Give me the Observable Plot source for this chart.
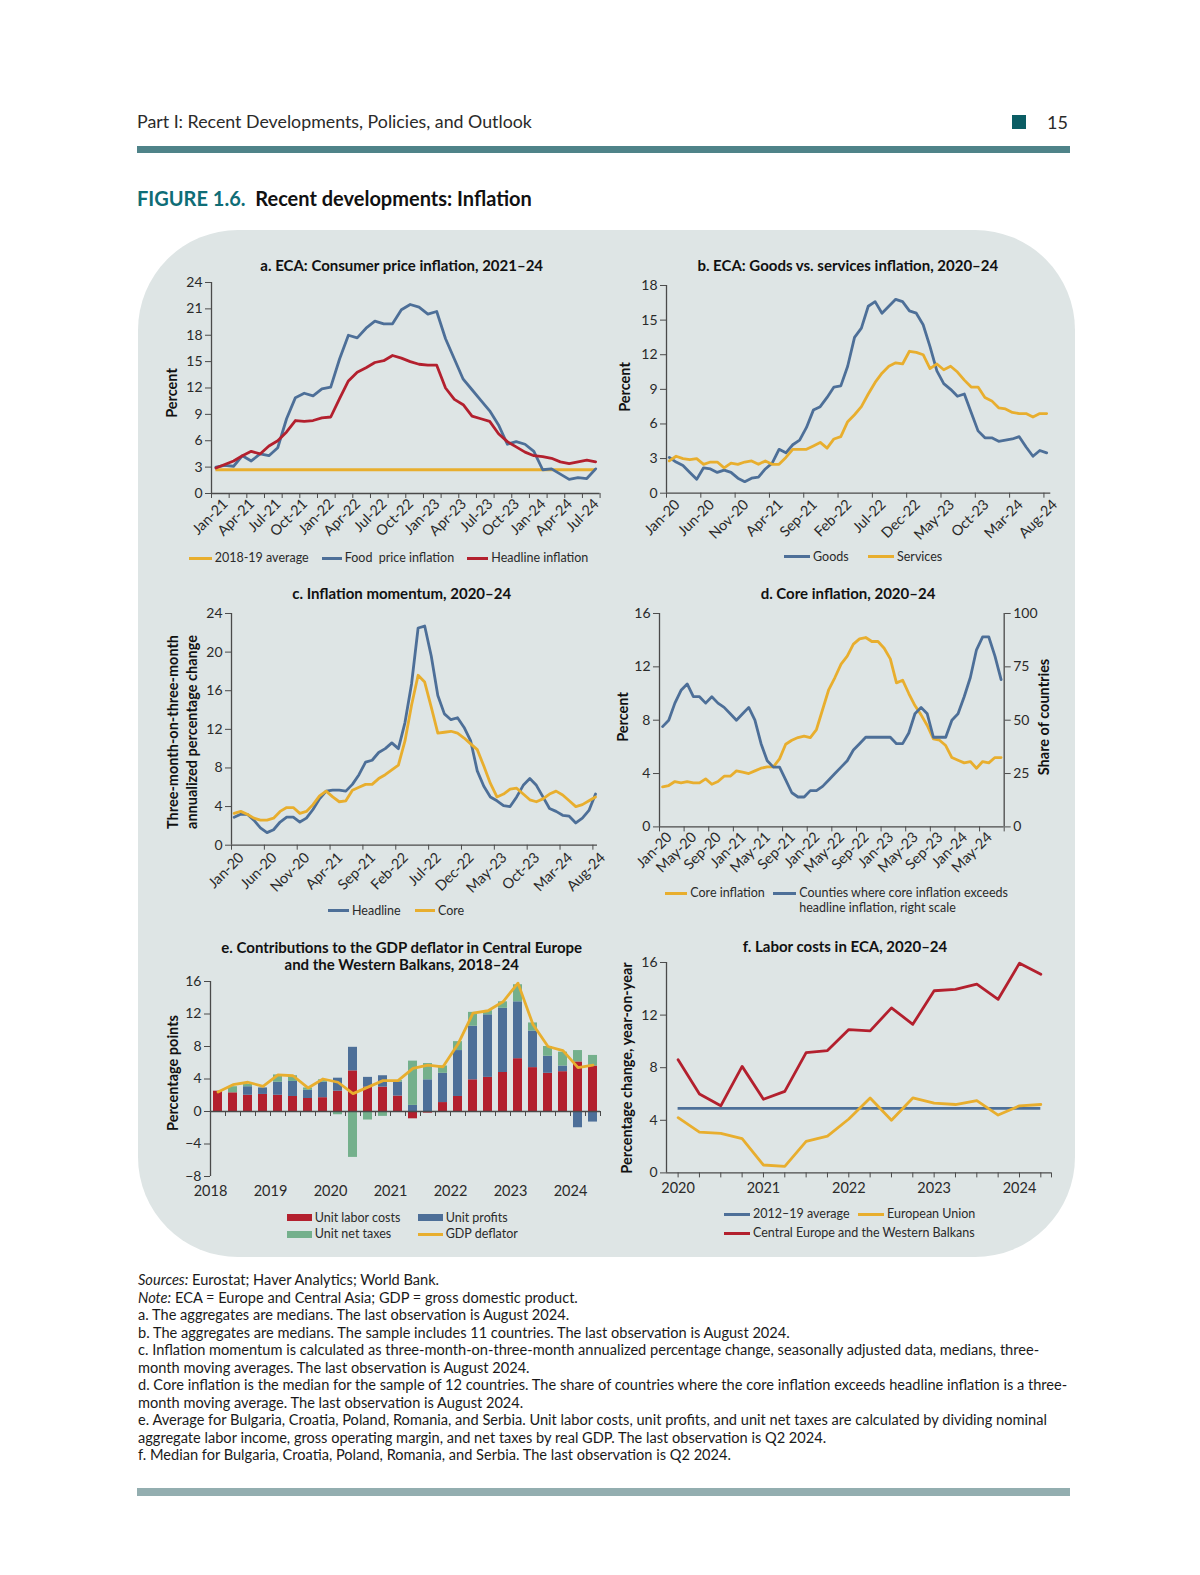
<!DOCTYPE html>
<html><head><meta charset="utf-8">
<script src="https://cdn.jsdelivr.net/npm/d3@7"></script>
<script src="https://cdn.jsdelivr.net/npm/@observablehq/plot@0.6"></script>
<style>
html,body{margin:0;padding:0;background:#fff;}
#page{position:relative;width:1200px;height:1575px;overflow:hidden;font-family:Lato,"Open Sans",sans-serif;color:#222;}
#page > *{position:absolute;}
.t{white-space:pre;line-height:1;}
.fn div{white-space:nowrap;height:17.5px;line-height:17.5px;}
</style></head><body><div id="page"></div>
<script>
// ---------------- DATA ----------------
// a. ECA consumer price inflation, monthly Jan-21 .. Aug-24
const aTickLabels = ["Jan-21","Apr-21","Jul-21","Oct-21","Jan-22","Apr-22","Jul-22","Oct-22","Jan-23","Apr-23","Jul-23","Oct-23","Jan-24","Apr-24","Jul-24"];
const aFood = [3.0,3.2,3.1,4.3,3.7,4.5,4.3,5.2,8.5,10.9,11.4,11.1,11.9,12.1,15.3,18.0,17.7,18.8,19.6,19.3,19.3,20.9,21.5,21.2,20.4,20.7,17.6,15.3,13.0,11.8,10.6,9.4,7.8,5.6,5.9,5.6,4.8,2.7,2.8,2.2,1.6,1.8,1.7,2.8];
const aHeadline = [2.9,3.3,3.7,4.3,4.8,4.5,5.4,6.0,7.0,8.3,8.2,8.3,8.6,8.7,10.8,12.8,13.8,14.3,14.9,15.1,15.7,15.4,15.0,14.7,14.6,14.6,12.0,10.7,10.1,8.8,8.5,8.2,6.8,5.9,5.3,4.7,4.3,4.2,4.0,3.6,3.4,3.6,3.8,3.6];
const aAverage = 2.7;
const aYTicks = [0,3,6,9,12,15,18,21,24];

// b. Goods vs services, monthly Jan-20 .. Aug-24
const bcTickLabels = ["Jan-20","Jun-20","Nov-20","Apr-21","Sep-21","Feb-22","Jul-22","Dec-22","May-23","Oct-23","Mar-24","Aug-24"];
const bGoods = [3.1,2.7,2.4,1.8,1.2,2.2,2.1,1.8,2.0,1.8, 1.3,1.0,1.3,1.4,2.1,2.6,3.8,3.5,4.2,4.6, 5.7,7.2,7.5,8.3,9.2,9.3,11.0,13.5,14.3,16.2, 16.6,15.6,16.2,16.8,16.6,15.8,15.6,14.6,12.7,10.6, 9.5,9.0,8.4,8.6,7.0,5.4,4.8,4.8,4.5,4.6, 4.7,4.9,4.0,3.2,3.7,3.5];
const bServices = [2.8,3.2,3.0,2.9,3.0,2.5,2.7,2.7,2.2,2.6, 2.5,2.7,2.8,2.5,2.8,2.5,2.5,3.1,3.8,3.8, 3.8,4.1,4.4,3.9,4.7,4.9,6.2,6.8,7.5,8.6, 9.6,10.4,11.0,11.3,11.2,12.3,12.2,12.0,10.8,11.2, 10.7,11.0,10.5,9.8,9.2,9.2,8.3,8.0,7.4,7.3, 7.0,6.9,6.9,6.6,6.9,6.9];
const bYTicks = [0,3,6,9,12,15,18];

// c. Inflation momentum, monthly Jan-20 .. Aug-24
const cHeadline = [2.9,3.2,3.2,2.6,1.8,1.3,1.6,2.4,2.9,2.9, 2.4,2.8,3.7,4.8,5.6,5.7,5.7,5.6,6.3,7.3, 8.6,8.8,9.6,10.0,10.6,10.0,12.7,16.7,22.5,22.7, 19.6,15.5,13.6,13.0,13.2,12.2,10.8,7.7,6.1,5.0, 4.6,4.1,4.0,5.0,6.2,6.9,6.2,5.0,3.8,3.5, 3.1,3.0,2.3,2.8,3.6,5.3];
const cCore = [3.3,3.5,3.2,2.8,2.6,2.6,2.8,3.5,3.9,3.9, 3.3,3.5,4.2,5.1,5.6,5.0,4.5,4.6,5.7,6.0, 6.3,6.3,6.9,7.3,7.8,8.3,10.8,14.5,17.6,16.9, 14.3,11.6,11.7,11.8,11.6,11.1,10.5,9.9,8.2,6.4, 5.0,5.3,5.8,5.9,5.3,4.7,4.5,4.8,5.3,5.6, 5.2,4.6,4.0,4.2,4.6,5.0];
const cYTicks = [0,4,8,12,16,20,24];

// d. Core inflation, monthly Jan-20 .. Aug-24
const dTickLabels = ["Jan-20","May-20","Sep-20","Jan-21","May-21","Sep-21","Jan-22","May-22","Sep-22","Jan-23","May-23","Sep-23","Jan-24","May-24"];
const dCore = [3.0,3.1,3.4,3.3,3.4,3.3,3.3,3.6,3.2,3.4, 3.8,3.8,4.2,4.1,4.0,4.2,4.4,4.5,4.5,5.1, 6.2,6.5,6.7,6.8,6.7,7.3,8.8,10.3,11.2,12.2, 12.8,13.7,14.1,14.2,13.9,13.9,13.4,12.6,10.8,11.0, 10.0,9.1,8.4,7.6,6.6,6.5,6.1,5.2,5.0,4.8, 4.9,4.4,4.9,4.8,5.2,5.2];
const dShare = [47,50,58,64,67,61,61,58,61,58, 56,53,50,53,56,50,39,31,28,28, 22,16,14,14,17,17,19,22,25,28, 31,36,39,42,42,42,42,42,39,39, 44,53,56,53,42,42,42,50,53,61, 70,83,89,89,80,69];
const dLeftTicks = [0,4,8,12,16];
const dRightTicks = [0,25,50,75,100];

// e. GDP deflator contributions, quarterly 2018Q1 .. 2024Q2
const eYears = ["2018","2019","2020","2021","2022","2023","2024"];
const eSeries = ["Unit labor costs","Unit profits","Unit net taxes"];
const eLabor = [2.5,2.3,2.0,2.1,2.0,1.85,1.6,1.7,2.5,5.0, 3.0,3.0,1.9,-0.9,-0.2,1.1,1.85,3.9,4.2,4.8, 6.5,5.4,4.7,4.9,6.1,5.6];
const eProfits = [0,0,1.05,0.8,1.6,1.85,1.0,1.9,1.6,2.9, 1.2,1.4,1.7,0.75,3.9,3.6,5.65,6.6,7.7,7.9, 7.0,4.5,2.1,0.7,-2.0,-1.3];
const eTaxes = [0,0.75,0.3,0,0.9,0.7,0.3,0.3,-0.4,-5.65, -1.05,-0.6,0.2,5.45,2.0,0.9,1.1,1.7,0.5,0.8, 2.1,1.0,1.2,1.7,1.4,1.3];
const eDeflator = [2.4,3.3,3.6,3.1,4.5,4.4,2.9,4.0,3.6,2.2, 3.0,3.8,3.8,5.3,5.7,5.5,8.3,12.1,12.4,13.5, 15.8,10.7,8.0,7.5,5.4,5.7];
const eYTicks = [-8,-4,0,4,8,12,16];

// f. Labor costs, quarterly 2020Q1 .. 2024Q2
const fYears = ["2020","2021","2022","2023","2024"];
const fCEWB = [8.6,6.0,5.1,8.1,5.6,6.2,9.15,9.3,10.9,10.8,12.55,11.3,13.85,13.95,14.35,13.2,15.95,15.1];
const fEU = [4.2,3.1,3.0,2.6,0.6,0.5,2.4,2.8,4.1,5.7,4.0,5.7,5.3,5.2,5.5,4.4,5.1,5.2];
const fAverage = 4.9;
const fYTicks = [0,4,8,12,16];

// ---------------- STYLE ----------------
const BLUE="#4d6f98", RED="#b3202e", YEL="#e8ae2e", GRN="#74b08c", AX="#4a4a4a", TXT="#2a2a2a";
const FONT="Lato, 'Open Sans', sans-serif";
const LW=2.8, TS=15, YL=14.5, RS=14.5;
const page=document.getElementById("page");

function box(x,y,w,h,style){const d=document.createElement("div");Object.assign(d.style,{left:x+"px",top:y+"px",width:w+"px",height:h+"px"},style||{});page.appendChild(d);return d;}
function text(str,x,y,o={}){
  const d=document.createElement("div");d.className="t";d.innerHTML=str;
  const tx=o.anchor==="middle"?"-50%":o.anchor==="end"?"-100%":"0";
  Object.assign(d.style,{left:x+"px",top:y+"px",fontSize:(o.size||12.5)+"px",fontWeight:o.weight||400,color:o.color||TXT,
    transform:`translate(${tx},-50%)`+(o.rotate?` rotate(${o.rotate}deg)`:""),textAlign:"center"});
  page.appendChild(d);return d;
}
const title=(s,x,y)=>text(s,x,y,{size:TS,weight:700,anchor:"middle",color:"#111"});
const ylab=(s,x,y)=>text(s,x,y,{size:YL,weight:700,anchor:"middle",rotate:-90,color:"#111"});
function legLine(x0,x1,y,color,label){box(x0,y-1.5,x1-x0,3,{background:color});text(label,x1+3,y,{size:12.5});}
function legRect(x0,x1,y,color,label){box(x0,y-3.5,x1-x0,7,{background:color});text(label,x1+3,y,{size:12.5});}

function chart(fx0,fx1,fy0,fy1,m,opts){
  const [ml,mr,mt,mb]=m;
  const svg=Plot.plot({width:fx1-fx0+ml+mr,height:fy1-fy0+mt+mb,marginLeft:ml,marginRight:mr,marginTop:mt,marginBottom:mb,
    style:{background:"transparent",overflow:"visible",fontFamily:FONT,color:TXT},...opts});
  svg.style.position="absolute";svg.style.left=(fx0-ml)+"px";svg.style.top=(fy0-mt)+"px";
  page.appendChild(svg);return svg;
}
const yAxis=(ticks,extra={})=>Plot.axisY({ticks,tickSize:6,tickPadding:3,fontSize:14,label:null,stroke:AX,...extra});
const xTicks=(ticks)=>Plot.axisX({ticks,tickSize:5,tickFormat:()=>"",label:null,stroke:AX});
const xRot=(ticks,fmt,dx,pad)=>Plot.axisX({ticks,tickFormat:fmt,tickSize:0,tickPadding:pad,tickRotate:-45,fontSize:RS,dx,label:null});

// ---------------- PAGE FRAME ----------------
text("Part I: Recent Developments, Policies, and Outlook",137,122,{size:17.8});
box(1012,115,14,14,{background:"#0b5d64"});
text("15",1047,122,{size:18});
box(137,146,933,7,{background:"#4f8389"});
text('<span style="color:#0f6d76">FIGURE 1.6.</span>&nbsp; Recent developments: Inflation',137,198,{size:20,weight:700,color:"#111"});
box(138,230,937,1027,{background:"#dee5e5",borderRadius:"100px"});
box(137,1488,933,8,{background:"#93aeb0"});

// ---------------- PANEL A ----------------
title("a. ECA: Consumer price inflation, 2021–24",401.7,265);
ylab("Percent",171.7,393);
chart(210.7,599.3,282.3,493.3,[60,20,12,70],{
  x:{domain:[0,44]},y:{domain:[0,24]},
  marks:[
    Plot.ruleY([aAverage],{x1:0.5,x2:aFood.length-0.5,stroke:YEL,strokeWidth:LW}),
    Plot.line(aFood,{x:(d,i)=>i+0.5,y:d=>d,stroke:BLUE,strokeWidth:LW}),
    Plot.line(aHeadline,{x:(d,i)=>i+0.5,y:d=>d,stroke:RED,strokeWidth:LW}),
    Plot.ruleX([0],{stroke:AX,strokeWidth:1.3}),
    Plot.ruleY([0],{stroke:AX,strokeWidth:1.3}),
    yAxis(aYTicks),
    xTicks(d3.range(0,45,2)),
    xRot(aTickLabels.map((d,i)=>i*3),d=>aTickLabels[Math.round(d/3)],14,8)
  ]});
legLine(189.3,211.7,558,YEL,"2018-19 average");
legLine(321.7,341.7,558,BLUE,"Food  price inflation");
legLine(466.7,488.3,558,RED,"Headline inflation");

// ---------------- PANEL B ----------------
title("b. ECA: Goods vs. services inflation, 2020–24",847.8,265);
ylab("Percent",625,387);
chart(665.7,1050,285,492.7,[60,20,12,70],{
  x:{domain:[0,56]},y:{domain:[0,18]},
  marks:[
    Plot.line(bGoods,{x:(d,i)=>i+0.4,y:d=>d,stroke:BLUE,strokeWidth:LW}),
    Plot.line(bServices,{x:(d,i)=>i+0.4,y:d=>d,stroke:YEL,strokeWidth:LW}),
    Plot.ruleX([0],{stroke:AX,strokeWidth:1.3}),
    Plot.ruleY([0],{stroke:AX,strokeWidth:1.3}),
    yAxis(bYTicks),
    xTicks(bcTickLabels.map((d,i)=>i*5)),
    xRot(bcTickLabels.map((d,i)=>i*5),d=>bcTickLabels[Math.round(d/5)],11,9)
  ]});
legLine(784,810,556.7,BLUE,"Goods");
legLine(868.3,894,556.7,YEL,"Services");

// ---------------- PANEL C ----------------
title("c. Inflation momentum, 2020–24",401.7,593);
ylab("Three-month-on-three-month",173.3,731.7);
ylab("annualized percentage change",191.5,731.7);
chart(230.7,596.7,613.3,845,[60,20,12,70],{
  x:{domain:[0,55.7]},y:{domain:[0,24]},
  marks:[
    Plot.line(cHeadline,{x:(d,i)=>i+0.4,y:d=>d,stroke:BLUE,strokeWidth:LW}),
    Plot.line(cCore,{x:(d,i)=>i+0.4,y:d=>d,stroke:YEL,strokeWidth:LW}),
    Plot.ruleX([0],{stroke:AX,strokeWidth:1.3}),
    Plot.ruleY([0],{stroke:AX,strokeWidth:1.3}),
    yAxis(cYTicks),
    xTicks(bcTickLabels.map((d,i)=>i*5)),
    xRot(bcTickLabels.map((d,i)=>i*5),d=>bcTickLabels[Math.round(d/5)],10,10)
  ]});
legLine(328.3,349,910.7,BLUE,"Headline");
legLine(415,435,910.7,YEL,"Core");

// ---------------- PANEL D ----------------
const K = dLeftTicks[dLeftTicks.length-1]/dRightTicks[dRightTicks.length-1];
title("d. Core inflation, 2020–24",848,593);
ylab("Percent",622.7,716.7);
ylab("Share of countries",1044,716.7);
chart(659.3,1004,613.3,826.7,[60,40,12,70],{
  x:{domain:[0,56]},y:{domain:[0,16]},
  marks:[
    Plot.line(dCore,{x:(d,i)=>i+0.5,y:d=>d,stroke:YEL,strokeWidth:LW}),
    Plot.line(dShare,{x:(d,i)=>i+0.5,y:d=>d*K,stroke:BLUE,strokeWidth:LW}),
    Plot.ruleX([0,56],{stroke:AX,strokeWidth:1.3}),
    Plot.ruleY([0],{stroke:AX,strokeWidth:1.3}),
    yAxis(dLeftTicks),
    yAxis(dRightTicks.map(v=>v*K),{anchor:"right",tickFormat:d=>String(Math.round(d/K))}),
    xTicks(d3.range(0,57,4)),
    xRot(dTickLabels.map((d,i)=>i*4),d=>dTickLabels[Math.round(d/4)],10,8)
  ]});
legLine(665,687.3,893,YEL,"Core inflation");
legLine(773.3,796.3,893,BLUE,"Counties where core inflation exceeds");
text("headline inflation, right scale",799.3,908,{size:12.5});

// ---------------- PANEL E ----------------
const eLong = [];
eLabor.forEach((v,i)=>{eLong.push({i,series:eSeries[0],value:v});eLong.push({i,series:eSeries[1],value:eProfits[i]});eLong.push({i,series:eSeries[2],value:eTaxes[i]});});
title("e. Contributions to the GDP deflator in Central Europe",401.7,946.7);
title("and the Western Balkans, 2018–24",401.7,963.6);
ylab("Percentage points",173.3,1073.3);
chart(209.8,599.8,980.7,1175.7,[60,20,12,40],{
  x:{domain:[0,eLabor.length]},y:{domain:[-8,16]},
  color:{domain:eSeries,range:[RED,BLUE,GRN]},
  marks:[
    Plot.rectY(eLong,{x:"i",interval:1,y:"value",fill:"series",insetLeft:3,insetRight:3}),
    Plot.ruleY([0],{stroke:AX,strokeWidth:1.3}),
    Plot.ruleX(d3.range(0,eLabor.length+1),{y1:0,y2:0,insetBottom:-5,stroke:AX}),
    Plot.ruleX([0],{stroke:AX,strokeWidth:1.3}),
    yAxis(eYTicks),
    Plot.axisX({ticks:eYears.map((d,i)=>i*4),tickFormat:d=>eYears[Math.round(d/4)],tickSize:0,tickPadding:9,fontSize:14.5,label:null}),
    Plot.line(eDeflator,{x:(d,i)=>i+0.5,y:d=>d,stroke:YEL,strokeWidth:LW})
  ]});
legRect(286.7,311.7,1217.7,RED,"Unit labor costs");
legRect(417.7,442.7,1217.7,BLUE,"Unit profits");
legRect(286.7,311.7,1234.3,GRN,"Unit net taxes");
legLine(417.7,442.7,1234.3,YEL,"GDP deflator");

// ---------------- PANEL F ----------------
const fXDomain=[-0.544,17.5];
title("f. Labor costs in ECA, 2020–24",845,945.7);
ylab("Percentage change, year-on-year",627.3,1068.3);
chart(665.7,1050.7,962.3,1172.7,[60,20,12,40],{
  x:{domain:fXDomain},y:{domain:[0,16]},
  marks:[
    Plot.ruleY([fAverage],{x1:0,x2:fCEWB.length-1,stroke:BLUE,strokeWidth:LW}),
    Plot.line(fEU,{x:(d,i)=>i,y:d=>d,stroke:YEL,strokeWidth:LW}),
    Plot.line(fCEWB,{x:(d,i)=>i,y:d=>d,stroke:RED,strokeWidth:LW}),
    Plot.ruleX([fXDomain[0]],{stroke:AX,strokeWidth:1.3}),
    Plot.ruleY([0],{stroke:AX,strokeWidth:1.3}),
    yAxis(fYTicks),
    xTicks(d3.range(0,fCEWB.length).concat([fXDomain[1]])),
    Plot.axisX({ticks:fYears.map((d,i)=>i*4),tickFormat:d=>fYears[Math.round(d/4)],tickSize:0,tickPadding:10,fontSize:14.5,label:null})
  ]});
legLine(724,750,1214.3,BLUE,"2012–19 average");
legLine(858.3,884,1214.3,YEL,"European Union");
legLine(724,750,1233.3,RED,"Central Europe and the Western Balkans");

// ---------------- NOTES ----------------
const notes = [
 "<i>Sources:</i> Eurostat; Haver Analytics; World Bank.",
 "<i>Note:</i> ECA = Europe and Central Asia; GDP = gross domestic product.",
 "a. The aggregates are medians. The last observation is August 2024.",
 "b. The aggregates are medians. The sample includes 11 countries. The last observation is August 2024.",
 "c. Inflation momentum is calculated as three-month-on-three-month annualized percentage change, seasonally adjusted data, medians, three-",
 "month moving averages. The last observation is August 2024.",
 "d. Core inflation is the median for the sample of 12 countries. The share of countries where the core inflation exceeds headline inflation is a three-",
 "month moving average. The last observation is August 2024.",
 "e. Average for Bulgaria, Croatia, Poland, Romania, and Serbia. Unit labor costs, unit profits, and unit net taxes are calculated by dividing nominal",
 "aggregate labor income, gross operating margin, and net taxes by real GDP. The last observation is Q2 2024.",
 "f. Median for Bulgaria, Croatia, Poland, Romania, and Serbia. The last observation is Q2 2024."
];
const fn=document.createElement("div");fn.className="fn";
Object.assign(fn.style,{left:"138px",top:"1271px",fontSize:"14.6px",color:"#1a1a1a"});
fn.innerHTML=notes.map(s=>`<div>${s}</div>`).join("");
page.appendChild(fn);
</script></body></html>
